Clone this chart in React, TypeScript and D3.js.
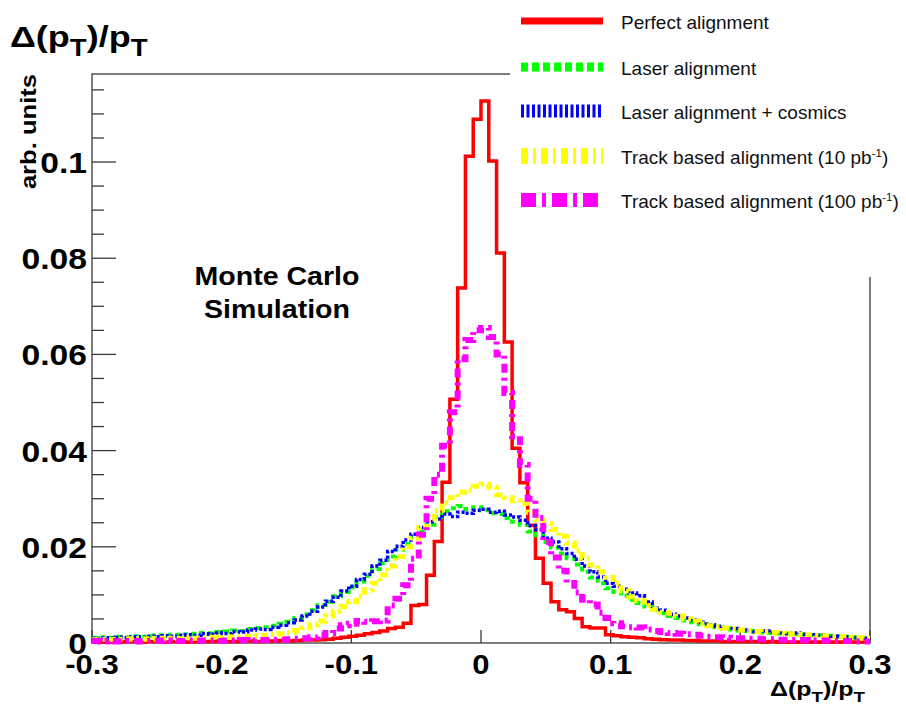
import React from "react";
import * as d3 from "d3";

// 100 bins from -0.3 to 0.3 (width 0.006)
const binLow = -0.3;
const binWidth = 0.006;

const perfect = [
  0.0003, 0.0002, 0.0003, 0.0002, 0.0003, 0.0003, 0.0002, 0.0003, 0.0003, 0.0002,
  0.0003, 0.0003, 0.0002, 0.0003, 0.0003, 0.0003, 0.0004, 0.0003, 0.0003, 0.0004,
  0.0004, 0.0003, 0.0004, 0.0004, 0.0005, 0.0004, 0.0005, 0.0006, 0.0006, 0.0007,
  0.0008, 0.0010, 0.0012, 0.0014, 0.0016, 0.0019, 0.0022, 0.0025, 0.0030, 0.0033,
  0.0041, 0.0078, 0.0080, 0.0141, 0.0211, 0.0334, 0.0507, 0.0738, 0.1012, 0.1089,
  0.1127, 0.1002, 0.0811, 0.0626, 0.0405, 0.0333, 0.0245, 0.0176, 0.0124, 0.0086,
  0.0069, 0.0065, 0.0051, 0.0034, 0.0031, 0.0031, 0.0017, 0.0015, 0.0013, 0.0012,
  0.0011, 0.0009, 0.0008, 0.0007, 0.0006, 0.0006, 0.0005, 0.0005, 0.0004, 0.0004,
  0.0004, 0.0003, 0.0003, 0.0003, 0.0003, 0.0003, 0.0002, 0.0003, 0.0002, 0.0002,
  0.0002, 0.0002, 0.0002, 0.0002, 0.0002, 0.0002, 0.0002, 0.0002, 0.0002, 0.0002,
];

const laser = [
  0.0011, 0.0012, 0.0011, 0.0013, 0.0012, 0.0014, 0.0013, 0.0015, 0.0016, 0.0015,
  0.0017, 0.0016, 0.0018, 0.0019, 0.0021, 0.0020, 0.0023, 0.0024, 0.0026, 0.0025,
  0.0029, 0.0031, 0.0033, 0.0036, 0.0040, 0.0044, 0.0052, 0.0060, 0.0068, 0.0079,
  0.0086, 0.0097, 0.0106, 0.0116, 0.0128, 0.0140, 0.0154, 0.0166, 0.0180, 0.0194,
  0.0206, 0.0220, 0.0232, 0.0246, 0.0262, 0.0274, 0.0280, 0.0285, 0.0278, 0.0282,
  0.0276, 0.0270, 0.0268, 0.0260, 0.0252, 0.0246, 0.0232, 0.0224, 0.0210, 0.0198,
  0.0186, 0.0176, 0.0163, 0.0148, 0.0136, 0.0124, 0.0114, 0.0106, 0.0098, 0.0090,
  0.0083, 0.0076, 0.0068, 0.0062, 0.0056, 0.0052, 0.0047, 0.0043, 0.0039, 0.0036,
  0.0033, 0.0030, 0.0028, 0.0026, 0.0025, 0.0023, 0.0022, 0.0021, 0.0020, 0.0019,
  0.0018, 0.0017, 0.0016, 0.0016, 0.0015, 0.0014, 0.0013, 0.0012, 0.0011, 0.0010,
];

const laserCosmics = [
  0.0010, 0.0011, 0.0010, 0.0012, 0.0011, 0.0013, 0.0012, 0.0014, 0.0013, 0.0015,
  0.0014, 0.0016, 0.0017, 0.0016, 0.0019, 0.0018, 0.0021, 0.0020, 0.0024, 0.0023,
  0.0027, 0.0029, 0.0028, 0.0033, 0.0037, 0.0042, 0.0048, 0.0056, 0.0066, 0.0075,
  0.0087, 0.0095, 0.0108, 0.0118, 0.0132, 0.0143, 0.0160, 0.0172, 0.0190, 0.0201,
  0.0214, 0.0226, 0.0240, 0.0252, 0.0258, 0.0268, 0.0263, 0.0272, 0.0270, 0.0276,
  0.0278, 0.0272, 0.0274, 0.0266, 0.0262, 0.0255, 0.0244, 0.0236, 0.0218, 0.0210,
  0.0196, 0.0186, 0.0174, 0.0160, 0.0148, 0.0137, 0.0124, 0.0118, 0.0112, 0.0104,
  0.0098, 0.0085, 0.0072, 0.0068, 0.0060, 0.0056, 0.0052, 0.0048, 0.0043, 0.0038,
  0.0035, 0.0031, 0.0030, 0.0027, 0.0026, 0.0024, 0.0025, 0.0022, 0.0021, 0.0020,
  0.0021, 0.0018, 0.0017, 0.0016, 0.0015, 0.0014, 0.0013, 0.0012, 0.0011, 0.0010,
];

const track10 = [
  0.0007, 0.0008, 0.0007, 0.0008, 0.0009, 0.0008, 0.0009, 0.0008, 0.0010, 0.0009,
  0.0010, 0.0009, 0.0011, 0.0010, 0.0011, 0.0012, 0.0011, 0.0012, 0.0013, 0.0013,
  0.0014, 0.0015, 0.0016, 0.0018, 0.0019, 0.0022, 0.0026, 0.0031, 0.0038, 0.0046,
  0.0056, 0.0066, 0.0076, 0.0086, 0.0097, 0.0110, 0.0124, 0.0142, 0.0160, 0.0180,
  0.0200, 0.0218, 0.0240, 0.0258, 0.0276, 0.0292, 0.0302, 0.0314, 0.0318, 0.0326,
  0.0330, 0.0324, 0.0308, 0.0302, 0.0296, 0.0290, 0.0272, 0.0256, 0.0248, 0.0236,
  0.0222, 0.0208, 0.0192, 0.0176, 0.0162, 0.0148, 0.0136, 0.0124, 0.0108, 0.0096,
  0.0088, 0.0078, 0.0070, 0.0064, 0.0062, 0.0056, 0.0050, 0.0046, 0.0040, 0.0036,
  0.0034, 0.0031, 0.0030, 0.0027, 0.0026, 0.0024, 0.0023, 0.0022, 0.0020, 0.0019,
  0.0018, 0.0017, 0.0016, 0.0015, 0.0014, 0.0013, 0.0013, 0.0012, 0.0011, 0.0010,
];

const track100 = [
  0.0004, 0.0003, 0.0004, 0.0003, 0.0004, 0.0004, 0.0003, 0.0004, 0.0004, 0.0005,
  0.0004, 0.0004, 0.0005, 0.0004, 0.0005, 0.0005, 0.0004, 0.0005, 0.0005, 0.0006,
  0.0005, 0.0006, 0.0006, 0.0007, 0.0007, 0.0008, 0.0009, 0.0010, 0.0012, 0.0016,
  0.0021, 0.0030, 0.0037, 0.0040, 0.0046, 0.0044, 0.0045, 0.0047, 0.0078, 0.0092,
  0.0120, 0.0175, 0.0225, 0.0300, 0.0350, 0.0410, 0.0480, 0.0590, 0.0630, 0.0650,
  0.0655, 0.0636, 0.0600, 0.0520, 0.0430, 0.0370, 0.0300, 0.0260, 0.0210, 0.0178,
  0.0150, 0.0125, 0.0105, 0.0090, 0.0080, 0.0063, 0.0052, 0.0041, 0.0035, 0.0033,
  0.0032, 0.0028, 0.0025, 0.0023, 0.0021, 0.0019, 0.0018, 0.0017, 0.0015, 0.0013,
  0.0012, 0.0011, 0.0010, 0.0010, 0.0009, 0.0009, 0.0008, 0.0008, 0.0007, 0.0007,
  0.0006, 0.0006, 0.0005, 0.0005, 0.0005, 0.0004, 0.0004, 0.0004, 0.0003, 0.0003,
];

const seriesNames = [
  "Perfect alignment",
  "Laser alignment",
  "Laser alignment + cosmics",
  "Track based alignment (10 pb",
  "Track based alignment (100 pb",
];
const seriesSuffix = ["", "", "", ")", ")"];
const seriesColors = ["#ff0000", "#00ff00", "#0000ff", "#ffff00", "#ff00ff"];

const xTicks = [-0.3, -0.2, -0.1, 0, 0.1, 0.2, 0.3];
const xTickLabels = ["-0.3", "-0.2", "-0.1", "0", "0.1", "0.2", "0.3"];
const yTicks = [0, 0.02, 0.04, 0.06, 0.08, 0.1];
const yTickLabels = ["0", "0.02", "0.04", "0.06", "0.08", "0.1"];

const W = 906;
const H = 711;
const left = 92;
const right = 870;
const top = 74;
const bottom = 643;

const plotStyles = [
  { w: 3.5, dash: "none" },
  { w: 4, dash: "5,4" },
  { w: 3.5, dash: "3,2" },
  { w: 5, dash: "7,4,3,4" },
  { w: 6, dash: "9,5,3,5" },
];
const legendStyles = [
  { w: 7, dash: "none" },
  { w: 9, dash: "7,4" },
  { w: 13, dash: "3,2.5" },
  { w: 16, dash: "7,5,3,5" },
  { w: 14, dash: "15,6,4,6" },
];

function SText(props: {
  x: number;
  y: number;
  sx: number;
  size: number;
  anchor?: string;
  weight?: string;
  rotate?: number;
  children: React.ReactNode;
}) {
  const { x, y, sx, size, anchor = "start", weight = "bold", rotate = 0, children } = props;
  return (
    <g transform={`translate(${x},${y}) rotate(${rotate}) scale(${sx},1)`}>
      <text x={0} y={0} textAnchor={anchor} fontSize={size} fontWeight={weight} fill="#000">
        {children}
      </text>
    </g>
  );
}

export default function App() {
  const x = d3.scaleLinear().domain([-0.3, 0.3]).range([left, right]);
  const y = d3.scaleLinear().domain([0, 0.1183]).range([bottom, top]);
  const all = [perfect, laser, laserCosmics, track10, track100];

  const line = d3
    .line<[number, number]>()
    .x((d) => x(d[0]))
    .y((d) => y(d[1]))
    .curve(d3.curveStepAfter);

  const pathFor = (vals: number[]) => {
    const pts: [number, number][] = vals.map((v, i) => [binLow + i * binWidth, v]);
    pts.push([binLow + vals.length * binWidth, vals[vals.length - 1]]);
    return line(pts) || "";
  };

  const yMinor = d3.range(0, 0.1181, 0.005);
  const font = "'Liberation Sans', Arial, Helvetica, sans-serif";
  const axisColor = "#3a3a3a";

  const legendRowY = [21, 67, 111, 156, 200];

  return (
    <svg
      width={W}
      height={H}
      style={{ position: "absolute", left: 0, top: 0, background: "#fff" }}
      fontFamily={font}
    >
      <rect x={0} y={0} width={W} height={H} fill="#fff" />
      {/* frame */}
      <rect x={left} y={top} width={right - left} height={bottom - top} fill="none" stroke={axisColor} strokeWidth={1.3} />

      {/* y ticks */}
      {yMinor.map((v, i) => {
        const isMajor = Math.abs(v / 0.02 - Math.round(v / 0.02)) < 1e-6;
        return (
          <line
            key={"ym" + i}
            x1={left}
            x2={left + (isMajor ? 24 : 12)}
            y1={y(v)}
            y2={y(v)}
            stroke={axisColor}
            strokeWidth={1.3}
          />
        );
      })}
      {/* x ticks */}
      {xTicks.map((v, i) => (
        <line key={"xt" + i} x1={x(v)} x2={x(v)} y1={bottom} y2={bottom - 13} stroke={axisColor} strokeWidth={1.3} />
      ))}

      {/* histograms */}
      <g fill="none" strokeLinejoin="miter" strokeLinecap="butt">
        {all.map((vals, i) => (
          <path
            key={"h" + i}
            d={pathFor(vals)}
            stroke={seriesColors[i]}
            strokeWidth={plotStyles[i].w}
            strokeDasharray={plotStyles[i].dash}
          />
        ))}
      </g>

      {/* tick labels */}
      {xTicks.map((v, i) => (
        <SText key={"xl" + i} x={x(v)} y={674} sx={1.13} size={27.5} anchor="middle">
          {xTickLabels[i]}
        </SText>
      ))}
      {yTicks.map((v, i) => (
        <SText key={"yl" + i} x={87} y={y(v) + 11} sx={1.16} size={29} anchor="end">
          {yTickLabels[i]}
        </SText>
      ))}

      {/* axis titles */}
      <SText x={10} y={47} sx={1.2} size={30}>
        Δ(p<tspan dy={9} fontSize={23}>T</tspan>
        <tspan dy={-9}>)/p</tspan>
        <tspan dy={9} fontSize={23}>T</tspan>
      </SText>
      <SText x={36} y={top} sx={1.19} size={21.5} anchor="end" rotate={-90}>
        arb. units
      </SText>
      <SText x={865} y={696} sx={1.25} size={20} anchor="end">
        Δ(p<tspan dy={6} fontSize={15}>T</tspan>
        <tspan dy={-6}>)/p</tspan>
        <tspan dy={6} fontSize={15}>T</tspan>
      </SText>

      {/* Monte Carlo label */}
      <SText x={277} y={285} sx={1.12} size={25.5} anchor="middle">
        Monte Carlo
      </SText>
      <SText x={277} y={318} sx={1.12} size={25.5} anchor="middle">
        Simulation
      </SText>

      {/* legend */}
      <rect x={510} y={0} width={W - 510} height={277} fill="#fff" />
      {seriesNames.map((name, i) => (
        <g key={"lg" + i}>
          <line
            x1={521}
            x2={603}
            y1={legendRowY[i]}
            y2={legendRowY[i]}
            stroke={seriesColors[i]}
            strokeWidth={legendStyles[i].w}
            strokeDasharray={legendStyles[i].dash}
          />
          <text x={621} y={legendRowY[i] + 8} fontSize={19} fill="#111">
            {name}
            {seriesSuffix[i] ? (
              <>
                <tspan dy={-7} fontSize={11.5}>-1</tspan>
                <tspan dy={7}>{seriesSuffix[i]}</tspan>
              </>
            ) : null}
          </text>
        </g>
      ))}
    </svg>
  );
}
